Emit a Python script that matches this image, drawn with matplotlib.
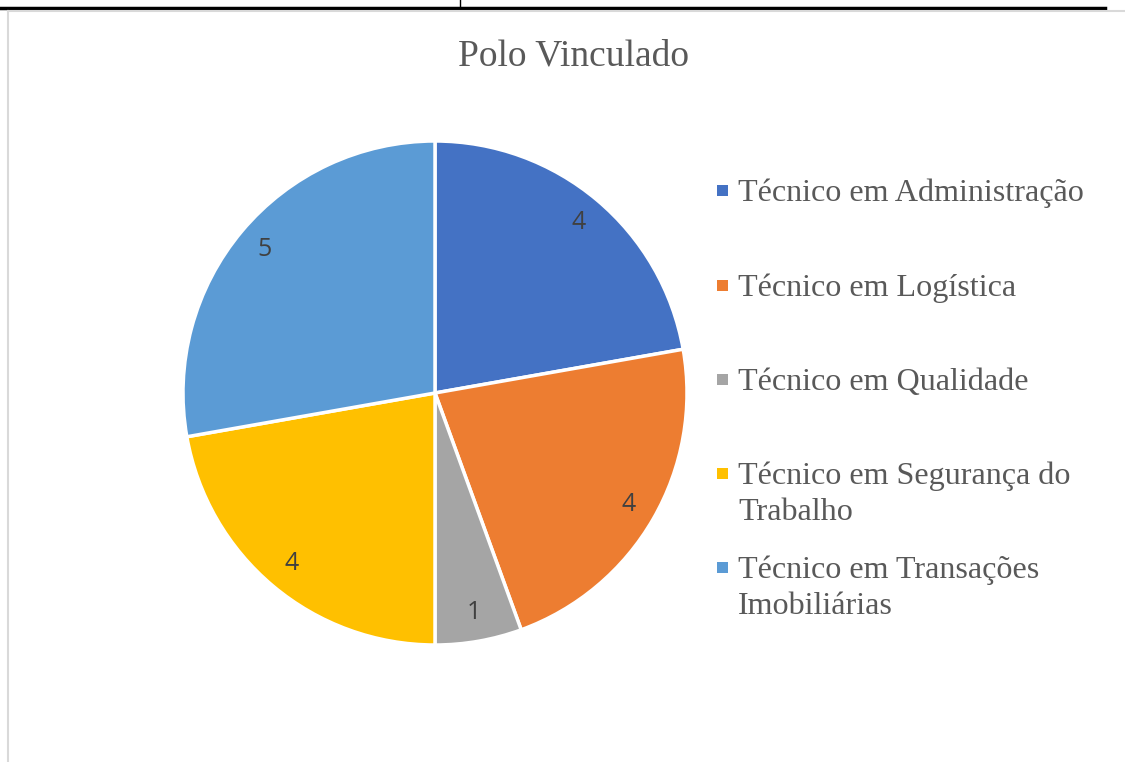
import textwrap
import matplotlib
matplotlib.use("Agg")
import matplotlib.pyplot as plt
from matplotlib.patches import Rectangle
from matplotlib.lines import Line2D

title = "Polo Vinculado"
categories = [
    "Técnico em Administração",
    "Técnico em Logística",
    "Técnico em Qualidade",
    "Técnico em Segurança do Trabalho",
    "Técnico em Transações Imobiliárias",
]
values = [4, 4, 1, 4, 5]
colors = ["#4472C4", "#ED7D31", "#A5A5A5", "#FFC000", "#5B9BD5"]

W, H = 1125, 762
fig = plt.figure(figsize=(W / 100, H / 100), dpi=100)
fig.patch.set_facecolor("white")

# frame / table remnants
fig.add_artist(Line2D([0, 1105 / W], [1 - 8 / H, 1 - 8 / H], color="black", lw=2.5))
fig.add_artist(Line2D([460 / W, 460 / W], [1, 1 - 8 / H], color="black", lw=1))
fig.add_artist(Line2D([8 / W, 8 / W], [0, 1 - 11 / H], color="#D9D9D9", lw=1.5))
fig.add_artist(Line2D([8 / W, 1], [1 - 11 / H, 1 - 11 / H], color="#D9D9D9", lw=1.5))

cx, cy, r = 435, 393, 252
ax = fig.add_axes([(cx - r) / W, (H - cy - r) / H, 2 * r / W, 2 * r / H])
total = sum(values)
wedges, _, autotexts = ax.pie(
    values, colors=colors, startangle=90, counterclock=False,
    autopct=lambda p: f"{round(p * total / 100):d}", pctdistance=0.885,
    wedgeprops=dict(edgecolor="white", linewidth=2.5),
    textprops=dict(color="#404040", fontsize=18, family="Open Sans"),
)
ax.set_xlim(-1, 1)
ax.set_ylim(-1, 1)
ax.set_aspect("equal")
ax.axis("off")

fig.text(574 / W, 1 - 65 / H, title, ha="center", va="baseline",
         fontsize=27, color="#595959", family="Liberation Serif")

# legend
baselines = [201, 296, 390, 484, 578]
line_step = 36
for lab, col, y in zip(categories, colors, baselines):
    fig.add_artist(Rectangle((717 / W, 1 - (y - 5) / H), 11 / W, 11 / H,
                             facecolor=col, edgecolor="none"))
    for i, line in enumerate(textwrap.wrap(lab, 24)):
        fig.text(738 / W, 1 - (y + i * line_step) / H, line, ha="left", va="baseline",
                 fontsize=23.1, color="#595959", family="Liberation Serif")

fig.savefig("out.png", dpi=100)
